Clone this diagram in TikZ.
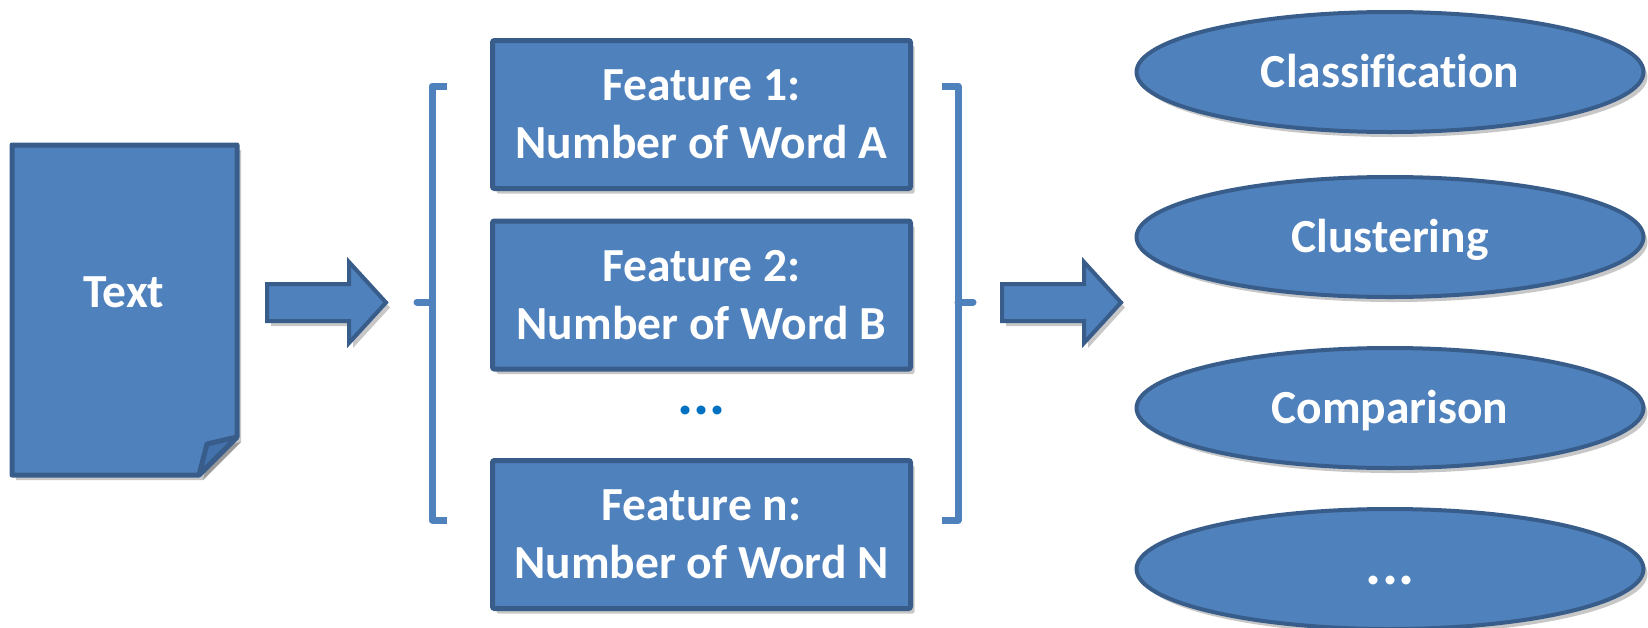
\documentclass[tikz,border=0pt]{standalone}
\usepackage{fontspec}
\setmainfont{Carlito}[Ligatures=NoCommon]
\usepackage{tikz}
\usetikzlibrary{shapes.geometric,shadows}
\definecolor{boxblue}{HTML}{4F81BD}
\definecolor{edgeblue}{HTML}{385D8A}
\definecolor{foldblue}{HTML}{4372AC}
\definecolor{dotblue}{HTML}{0070C0}

\begin{document}
\begin{tikzpicture}[x=1pt,y=-1pt,
	every node/.style={font=\bfseries\fontsize{47.5}{58}\selectfont,text=white,align=center},
	bigdots/.style={font=\bfseries\fontsize{60}{60}\selectfont},
	softshadow/.style={drop shadow={shadow xshift=4pt,shadow yshift=-5pt,fill=black,opacity=0.22}},
	featbox/.style={draw=edgeblue,fill=boxblue,line width=5pt,rounded corners=2pt,
		minimum width=418pt,minimum height=148pt,inner sep=0pt,softshadow},
	taskoval/.style={ellipse,draw=edgeblue,fill=boxblue,line width=4pt,
		minimum width=507pt,minimum height=120pt,inner sep=0pt,
		text height=30pt,text depth=0pt,softshadow},
	docshape/.style={draw=edgeblue,fill=boxblue,line width=5pt,line join=round,softshadow},
	blockarrow/.style={draw=edgeblue,fill=boxblue,line width=4pt,line join=miter,softshadow},
	brack/.style={draw=boxblue,line width=7pt,line cap=butt,line join=round}]
	\useasboundingbox (0,0) rectangle (1648,627);
	\clip (0,0) rectangle (1648,627);

	%DOCUMENT
	\draw[docshape] (12,145) -- (237,145) -- (237,437) -- (199,475) -- (12,475) -- cycle;
	\draw[docshape,fill=foldblue] (237,437) -- (207,444) -- (199,475) -- cycle;
	\node (doc) at (124,292) {Text};

	%ARROW TEXT -- FEATURES
	\draw[blockarrow] (267,284) -- (349,284) -- (349,262) -- (386,302.5) -- (349,343) -- (349,321) -- (267,321) -- cycle;

	%BRACKETS
	\draw[brack] (447,86) -- (432,86) -- (432,520) -- (447,520);
	\draw[brack,line cap=round] (432,302) -- (417,302);
	\draw[brack] (942,86) -- (958,86) -- (958,520) -- (942,520);
	\draw[brack,line cap=round] (958,302) -- (973,302);

	%FEATURES
	\node[featbox] (feat1) at (701.5,114.5) {Feature 1:\\Number of Word A};
	\node[featbox] (feat2) at (701.5,295) {Feature 2:\\Number of Word B};
	\node[bigdots,text=dotblue] (featdots) at (701.5,410) {...};
	\node[featbox] (featn) at (701.5,534.5) {Feature n:\\Number of Word N};

	%ARROW FEATURES -- TASKS
	\draw[blockarrow] (1002,284) -- (1084,284) -- (1084,262) -- (1121,302.5) -- (1084,343) -- (1084,321) -- (1002,321) -- cycle;

	%TASKS
	\node[taskoval] (classif) at (1390,72) {Classification};
	\node[taskoval] (cluster) at (1390,237) {Clustering};
	\node[taskoval] (compar) at (1390,408) {Comparison};
	\node[taskoval,bigdots] (taskdots) at (1390,569) {...};
\end{tikzpicture}
\end{document}
